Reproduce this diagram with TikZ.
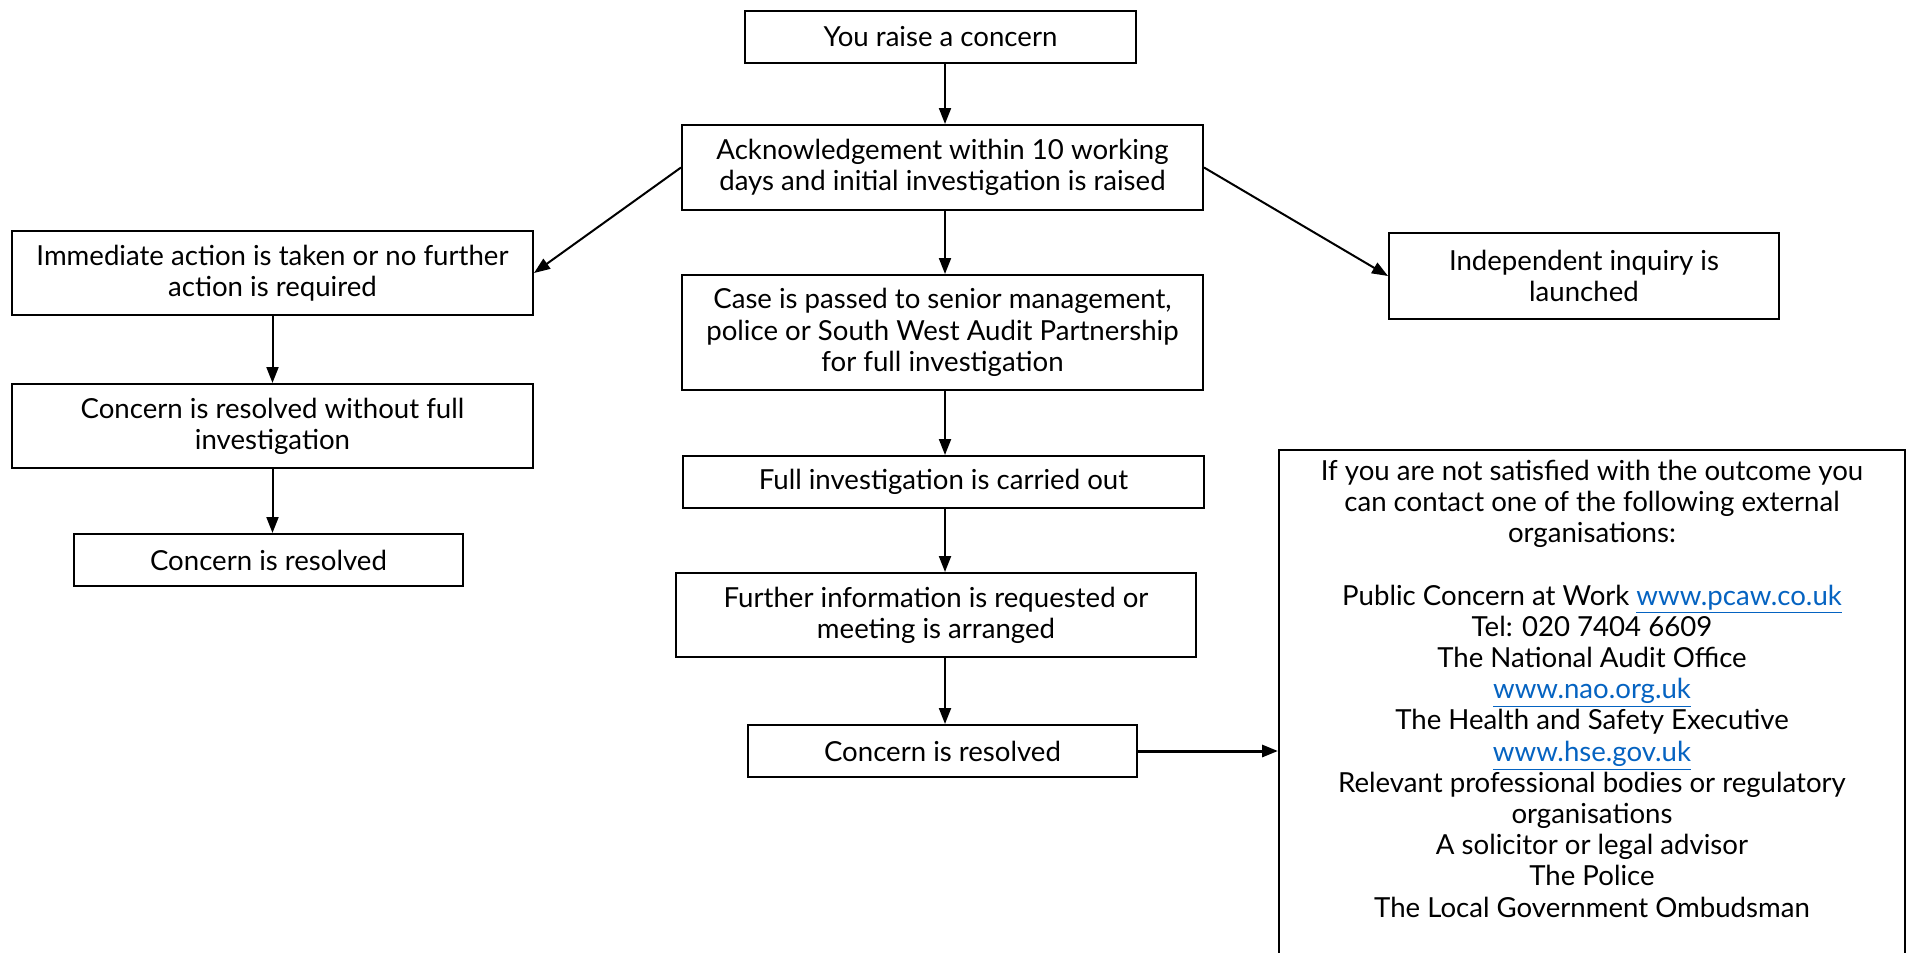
\documentclass[tikz,border=0pt]{standalone}
\usepackage{fontspec}
\setmainfont{Lato}
\usetikzlibrary{arrows.meta}
\usepackage{xcolor}
\definecolor{linkblue}{HTML}{0563C1}
\newcommand{\weblink}[1]{\textcolor{linkblue}{\underline{#1}}}

\begin{document}
\begin{tikzpicture}[x=0.5pt, y=-0.5pt,
  box/.style={rectangle, draw, line width=1pt, inner sep=0pt, align=center, font=\fontsize{13.8}{15.6}\selectfont},
  flow/.style={-{Triangle[length=8pt, width=6pt]}, line width=1pt}]
  \useasboundingbox (0,0) rectangle (1907,953);
  \node[box, minimum width=195.5pt, minimum height=26pt] (raise) at (940.5,37) {You raise a concern};
  \node[box, minimum width=260.5pt, minimum height=42.5pt] (ack) at (942.5,167.5) {Acknowledgement within 10 working\\days and initial investigation is raised};
  \node[box, minimum width=260.5pt, minimum height=42pt] (immed) at (272.5,273) {Immediate action is taken or no further\\action is required};
  \node[box, minimum width=195pt, minimum height=43pt] (indep) at (1584,276) {Independent inquiry is\\launched};
  \node[box, minimum width=260.5pt, minimum height=57.5pt] (case) at (942.5,332.5) {Case is passed to senior management,\\police or South West Audit Partnership\\for full investigation};
  \node[box, minimum width=260.5pt, minimum height=42pt] (nofull) at (272.5,426) {Concern is resolved without full\\investigation};
  \node[box, minimum width=194.5pt, minimum height=26pt] (resleft) at (268.5,560) {Concern is resolved};
  \node[box, minimum width=260.5pt, minimum height=26pt] (fullinv) at (943.5,482) {Full investigation is carried out};
  \node[box, minimum width=260pt, minimum height=42pt] (further) at (936,615) {Further information is requested or\\meeting is arranged};
  \node[box, minimum width=194.5pt, minimum height=26pt] (resmid) at (942.5,751) {Concern is resolved};
  \node[box, minimum width=313pt, minimum height=300pt, anchor=north] (extbox) at (1592,449) {};
  \node[box, draw=none, anchor=north] (extinfo) at (1592,459) {If you are not satisfied with the outcome you\\can contact one of the following external\\organisations:\\[15.6pt]
    Public Concern at Work \weblink{www.pcaw.co.uk}\\Tel: 020 7404 6609\\The National Audit Office\\\weblink{www.nao.org.uk}\\
    The Health and Safety Executive\\\weblink{www.hse.gov.uk}\\Relevant professional bodies or regulatory\\organisations\\
    A solicitor or legal advisor\\The Police\\The Local Government Ombudsman};

  \coordinate (midcol) at (945,0);
  \draw[flow] (raise.south -| midcol) -- (ack.north -| midcol);
  \draw[flow] (ack.west) -- (immed.east);
  \draw[flow] (ack.east) -- (indep.west);
  \draw[flow] (ack.south -| midcol) -- (case.north -| midcol);
  \draw[flow] (immed.south) -- (nofull.north);
  \draw[flow] (nofull.south) -- (nofull.south |- resleft.north);
  \draw[flow] (case.south -| midcol) -- (fullinv.north -| midcol);
  \draw[flow] (fullinv.south -| midcol) -- (further.north -| midcol);
  \draw[flow] (further.south -| midcol) -- (resmid.north -| midcol);
  \draw[flow, line width=1.5pt] (resmid.east) -- (resmid.east -| extbox.west);
\end{tikzpicture}
\end{document}
